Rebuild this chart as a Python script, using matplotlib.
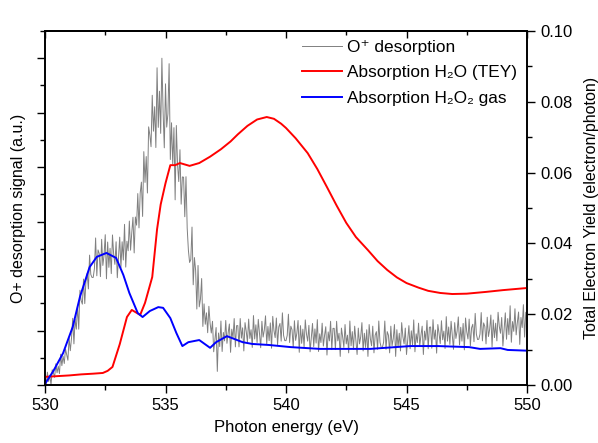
import numpy as np
import matplotlib
matplotlib.use("Agg")
import matplotlib.pyplot as plt
from matplotlib.ticker import MultipleLocator, NullFormatter

plt.rcParams['font.family'] = ['Liberation Sans', 'DejaVu Sans']
plt.rcParams['mathtext.default'] = 'regular'

# O+ desorption signal (arbitrary units), 530.00 .. 550.00 eV in 0.05 eV steps
gray_start, gray_step = 530.0, 0.05
gray_signal = [
    0.25, 0.00, 0.47, 0.13, 0.36, 0.00, 0.56, 0.44, 0.28, 0.78,
    0.45, 0.69, 0.42, 1.13, 0.71, 1.06, 0.79, 1.32, 1.12, 0.91,
    1.72, 1.26, 1.72, 2.45, 1.51, 2.41, 2.05, 2.92, 2.05, 3.48,
    3.10, 2.97, 3.89, 2.99, 3.84, 4.10, 3.53, 4.77, 4.06, 3.95,
    3.95, 4.27, 5.40, 4.01, 4.96, 4.83, 3.98, 5.35, 4.39, 4.77,
    5.52, 3.90, 5.25, 4.32, 5.02, 4.09, 5.51, 4.79, 4.43, 5.26,
    3.94, 4.68, 5.43, 4.31, 5.26, 4.59, 5.90, 4.33, 5.28, 4.93,
    6.02, 4.95, 5.59, 6.16, 4.85, 6.17, 5.87, 7.03, 5.77, 7.05,
    7.45, 6.19, 8.57, 7.44, 8.39, 7.05, 9.48, 9.18, 8.75, 10.64,
    9.32, 10.22, 8.72, 11.65, 9.46, 10.79, 9.24, 12.00, 10.04, 8.71,
    11.06, 9.47, 9.96, 11.80, 8.28, 9.63, 8.10, 9.45, 6.80, 9.53,
    8.10, 7.47, 8.64, 6.64, 7.64, 7.63, 6.18, 7.65, 5.76, 4.95,
    4.50, 4.61, 5.80, 3.68, 4.68, 4.21, 2.79, 4.39, 2.87, 3.15,
    3.91, 2.15, 2.98, 2.23, 2.65, 1.92, 2.89, 2.27, 1.91, 2.34,
    1.22, 1.66, 2.11, 0.50, 1.91, 1.41, 2.35, 1.23, 1.93, 1.62,
    2.37, 1.53, 1.92, 2.24, 1.20, 2.05, 1.72, 2.44, 1.40, 2.18,
    2.18, 1.40, 2.44, 1.72, 2.10, 1.25, 2.29, 1.97, 1.58, 2.42,
    1.71, 2.03, 1.38, 2.55, 1.69, 2.21, 1.56, 2.41, 1.89, 1.37,
    2.34, 1.76, 2.02, 2.54, 1.50, 2.15, 1.63, 2.28, 1.35, 2.52,
    2.00, 1.74, 2.46, 1.48, 2.13, 2.26, 1.61, 2.65, 1.82, 1.63,
    1.63, 1.82, 2.60, 1.56, 2.16, 2.03, 1.38, 2.36, 1.64, 1.90,
    2.37, 1.20, 2.18, 1.53, 2.05, 1.40, 2.39, 1.87, 1.61, 2.19,
    1.22, 1.74, 2.26, 1.41, 2.06, 1.54, 2.40, 1.23, 1.88, 1.56,
    2.27, 1.43, 1.82, 2.14, 1.10, 1.95, 1.62, 2.34, 1.30, 2.08,
    2.08, 1.30, 2.34, 1.62, 1.90, 1.05, 2.09, 1.77, 1.38, 2.22,
    1.51, 1.83, 1.18, 2.35, 1.44, 1.96, 1.31, 2.16, 1.64, 1.12,
    2.09, 1.51, 1.77, 2.29, 1.25, 1.90, 1.38, 2.03, 1.05, 2.22,
    1.70, 1.44, 2.16, 1.18, 1.83, 1.96, 1.31, 2.35, 1.57, 1.38,
    1.38, 1.57, 2.35, 1.31, 1.96, 1.83, 1.18, 2.16, 1.44, 1.70,
    2.22, 1.05, 2.03, 1.38, 1.90, 1.25, 2.29, 1.77, 1.51, 2.09,
    1.12, 1.65, 2.18, 1.33, 1.99, 1.47, 2.39, 1.22, 1.88, 1.56,
    2.27, 1.44, 1.83, 2.16, 1.12, 1.98, 1.65, 2.37, 1.33, 2.12,
    2.13, 1.35, 2.40, 1.68, 2.02, 1.17, 2.22, 1.90, 1.52, 2.36,
    1.66, 1.98, 1.34, 2.51, 1.61, 2.13, 1.49, 2.34, 1.83, 1.31,
    2.29, 1.71, 1.98, 2.50, 1.47, 2.12, 1.61, 2.26, 1.29, 2.46,
    1.95, 1.69, 2.42, 1.44, 2.10, 2.23, 1.59, 2.63, 1.86, 1.67,
    1.68, 1.87, 2.66, 1.62, 2.28, 2.15, 1.51, 2.49, 1.78, 2.04,
    2.57, 1.40, 2.39, 1.74, 2.27, 1.62, 2.67, 2.15, 1.90, 2.48,
    1.43, 2.04, 2.65, 1.68, 2.44, 1.85, 2.91, 1.57, 2.33, 1.97,
    2.80, 1.84, 2.30, 2.68, 1.49, 2.48, 2.11, 2.95, 1.76, 2.67,
    2.68,
]

# Absorption H2O (TEY), electron/photon
tey_energy = [530.0, 530.5, 531.0, 531.5, 532.0, 532.4, 532.6, 532.8, 533.1, 533.4,
              533.6, 533.95, 534.15, 534.45, 534.65, 534.8, 535.0, 535.2, 535.4, 535.6,
              536.0, 536.4, 536.85, 537.3, 537.7, 538.0, 538.4, 538.8, 539.2, 539.5,
              539.8, 540.0, 540.4, 540.9, 541.3, 541.7, 542.1, 542.5, 542.9, 543.4,
              543.8, 544.2, 544.6, 545.0, 545.5, 545.9, 546.4, 546.9, 547.5, 548.3,
              549.0, 550.0]
tey_h2o = [0.0023, 0.0025, 0.0027, 0.0030, 0.0032, 0.0034, 0.0040, 0.0051, 0.0115, 0.0192,
           0.0212, 0.0198, 0.0232, 0.0305, 0.0440, 0.0510, 0.0570, 0.0621, 0.0621, 0.0627,
           0.0619, 0.0627, 0.0645, 0.0666, 0.0688, 0.0708, 0.0732, 0.0750, 0.0757, 0.0752,
           0.0738, 0.0726, 0.0697, 0.0655, 0.0610, 0.0559, 0.0507, 0.0458, 0.0418, 0.0381,
           0.0350, 0.0325, 0.0304, 0.0288, 0.0275, 0.0266, 0.0260, 0.0257, 0.0258, 0.0263,
           0.0268, 0.0274]

# Absorption H2O2 gas
gas_energy = [530.0, 530.35, 530.75, 531.15, 531.45, 531.85, 532.15, 532.55, 532.95, 533.25,
              533.5, 533.85, 534.05, 534.35, 534.7, 534.9, 535.2, 535.45, 535.7, 535.95,
              536.4, 536.85, 537.1, 537.55, 538.2, 538.6, 539.3, 540.2, 541.4, 543.5,
              545.15, 546.3, 547.6, 548.05, 548.9, 549.2, 550.0]
gas_h2o2 = [0.0003, 0.0040, 0.0090, 0.0164, 0.0249, 0.0333, 0.0362, 0.0373, 0.0359, 0.0311,
            0.0260, 0.0203, 0.0192, 0.0209, 0.0220, 0.0218, 0.0189, 0.0147, 0.0110, 0.0121,
            0.0127, 0.0105, 0.0121, 0.0138, 0.0121, 0.0116, 0.0113, 0.0107, 0.0102, 0.0102,
            0.0110, 0.0110, 0.0107, 0.0102, 0.0104, 0.0099, 0.0097]

labels = ['O\u207a desorption', 'Absorption H\u2082O (TEY)', 'Absorption H\u2082O\u2082 gas']

gray_energy = gray_start + gray_step * np.arange(len(gray_signal))

fig = plt.figure(figsize=(5.98, 4.43), dpi=100)
ax1 = fig.add_axes([45/598, 58/443, 482/598, 354/443])
ax2 = ax1.twinx()

l1, = ax1.plot(gray_energy, gray_signal, color='#808080', lw=0.7)
l2, = ax2.plot(tey_energy, tey_h2o, color='#ff0000', lw=1.4)
l3, = ax2.plot(gas_energy, gas_h2o2, color='#0000ff', lw=1.4)

ax1.set_xlim(530, 550)
ax1.set_ylim(0, 13)
ax2.set_ylim(0, 0.10)

fs = 12
ax1.xaxis.set_major_locator(MultipleLocator(5))
ax1.xaxis.set_minor_locator(MultipleLocator(2.5))
ax1.yaxis.set_major_locator(MultipleLocator(2))
ax1.yaxis.set_minor_locator(MultipleLocator(1))
ax1.yaxis.set_major_formatter(NullFormatter())
ax2.yaxis.set_major_locator(MultipleLocator(0.02))
ax2.yaxis.set_minor_locator(MultipleLocator(0.01))
ax2.yaxis.set_major_formatter(plt.FormatStrFormatter('%.2f'))

ax1.tick_params(axis='x', which='both', direction='out', labelsize=fs, width=1.0, top=False)
ax1.tick_params(axis='x', which='major', length=6)
ax1.tick_params(axis='x', which='minor', length=3.5)
ax1.tick_params(axis='y', which='major', direction='out', length=6, width=1.0)
ax1.tick_params(axis='y', which='minor', direction='out', length=3.5, width=1.0)
ax2.tick_params(axis='y', which='major', direction='out', length=6, width=1.0, labelsize=fs)
ax2.tick_params(axis='y', which='minor', direction='out', length=3.5, width=1.0)

# top ticks inward
secx = ax1.secondary_xaxis('top')
secx.xaxis.set_major_locator(MultipleLocator(5))
secx.xaxis.set_minor_locator(MultipleLocator(2.5))
secx.tick_params(which='both', direction='in', labeltop=False, width=1.0)
secx.tick_params(which='major', length=5)
secx.tick_params(which='minor', length=3)

for ax in (ax1, ax2):
    for s in ax.spines.values():
        s.set_linewidth(1.2)
secx.spines['top'].set_linewidth(1.2)

ax1.set_xlabel('Photon energy (eV)', fontsize=12, labelpad=5)
ax1.set_ylabel('O+ desorption signal (a.u.)', fontsize=11.5, labelpad=4)
ax2.set_ylabel('Total Electron Yield (electron/photon)', fontsize=11.5, labelpad=8)

ax2.legend([l1, l2, l3], labels, loc='upper left', bbox_to_anchor=(0.533, 0.975),
           frameon=False, fontsize=12.4, handlelength=2.3, handletextpad=0.3,
           labelspacing=0.6, borderpad=0, borderaxespad=0)

fig.savefig('out.png', dpi=100)
